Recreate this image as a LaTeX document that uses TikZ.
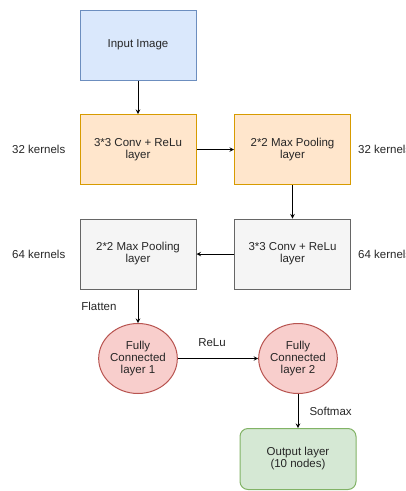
\documentclass[tikz,border=0pt]{standalone}
\usepackage{fontspec}
\setmainfont{Liberation Sans}
\usepackage{xcolor}
\usepackage{tikz}
\usetikzlibrary{shapes.geometric, arrows, positioning}
\definecolor{bluefill}{HTML}{DAE8FC}
\definecolor{blueline}{HTML}{6C8EBF}
\definecolor{orangefill}{HTML}{FFE6CC}
\definecolor{orangeline}{HTML}{D79B00}
\definecolor{grayfill}{HTML}{F5F5F5}
\definecolor{grayline}{HTML}{666666}
\definecolor{redfill}{HTML}{F8CECC}
\definecolor{redline}{HTML}{B85450}
\definecolor{greenfill}{HTML}{D5E8D4}
\definecolor{greenline}{HTML}{82B366}
\tikzstyle{layer} = [rectangle, minimum width=116pt, minimum height=70pt, text centered, align=center, line width=1pt, text=black!85]
\tikzstyle{inbox} = [layer, draw=blueline, fill=bluefill]
\tikzstyle{convbox} = [layer, draw=orangeline, fill=orangefill]
\tikzstyle{graybox} = [layer, draw=grayline, fill=grayfill]
\tikzstyle{fcnode} = [ellipse, minimum width=78pt, minimum height=70pt, inner sep=0pt, text centered, align=center, line width=1pt, draw=redline, fill=redfill, text=black!85]
\tikzstyle{outbox} = [layer, rounded corners=8pt, minimum height=61pt, draw=greenline, fill=greenfill]
\tikzstyle{kern} = [inner sep=0pt, text=black!85]
\tikzstyle{arrow} = [line width=1pt,->,>=stealth]

\begin{document}
\begin{tikzpicture}[node distance=104.5pt, font=\fontsize{11.5}{12}\selectfont]
   \useasboundingbox (0,0) rectangle (406pt,-491pt);
   \node (in) [inbox] at (138pt,-45pt) {Input Image};
   \node (c1) [convbox, below of=in] {3*3 Conv + ReLu\\layer};
   \node (p1) [convbox, right of=c1, node distance=154.5pt] {2*2 Max Pooling\\layer};
   \node (c2) [graybox, below of=p1] {3*3 Conv + ReLu\\layer};
   \node (p2) [graybox, below of=c1] {2*2 Max Pooling\\layer};
   \node (f1) [fcnode, below of=p2] {Fully\\Connected\\layer 1};
   \node (f2) [fcnode, right of=f1, node distance=160pt] {Fully\\Connected\\layer 2};
   \node (o) [outbox, below of=f2, node distance=100.5pt] {Output layer\\(10 nodes)};
   \node (k1) [kern, left=14pt of c1] {32 kernels};
   \node (k2) [kern, right=7pt of p1] {32 kernels};
   \node (k3) [kern, left=14pt of p2] {64 kernels};
   \node (k4) [kern, right=7pt of c2] {64 kernels};
   \draw [arrow] (in) -- (c1);
   \draw [arrow] (c1) -- (p1);
   \draw [arrow] (p1) -- (c2);
   \draw [arrow] (c2) -- (p2);
   \draw [arrow] (p2) -- node[kern, left=21pt] {Flatten} (f1);
   \draw [arrow] (f1) -- node[kern, above=11pt, xshift=-6pt] {ReLu} (f2);
   \draw [arrow] (f2) -- node[kern, right=11pt] {Softmax} (o);
\end{tikzpicture}
\end{document}
